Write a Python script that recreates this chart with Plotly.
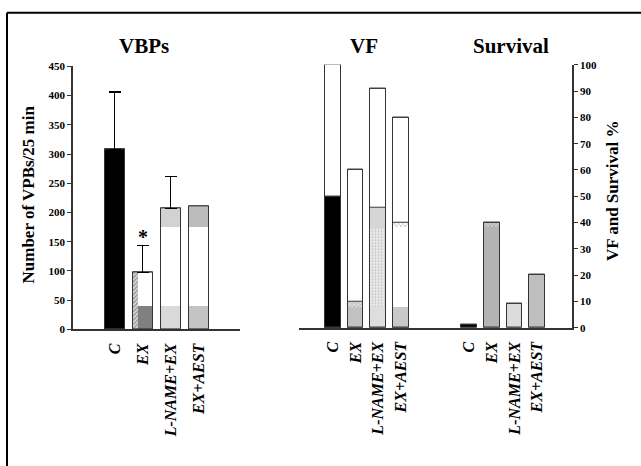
import plotly.graph_objects as go

W, H = 641, 466

# ---------------- data ----------------
cats = ["C", "EX", "L-NAME+EX", "EX+AEST"]
vpb_mean = [308, 97, 207, 210]
vpb_sem = [98, 47, 55, None]
vpb_low_band = [40, 40, 40]          # bottom shaded band of EX, L-NAME+EX, EX+AEST
vpb_high_start = [175, 175]          # start of top shaded band of L-NAME+EX, EX+AEST
vf_total = [100, 60, 91, 80]
vf_lower = [50, 10, 45.5, 40]
vf_gray = [8, 8, 8]                  # bottom gray band of EX, L-NAME+EX, EX+AEST
survival = [1, 40, 9, 20]
y1_ticks = list(range(0, 451, 50))
y2_ticks = list(range(0, 101, 10))

FONT = "Liberation Serif, Times New Roman, serif"
EDGE = "#333333"

vpb_x = [0, 1, 2, 3]
vf_x = [0, 1, 2, 3]
sv_x = [6, 7, 8, 9]
BW1 = 0.7
BW2 = 0.69

fig = go.Figure()


def bar(x, y, base=None, fill="white", ax=1, width=None, offset=None,
        pattern=None, line=1, lcolor=EDGE, err=None):
    bw = BW1 if ax == 1 else BW2
    kw = dict(
        x=x, y=y, base=base,
        width=width if width is not None else bw,
        marker=dict(color=fill, line=dict(color=lcolor, width=line)),
        xaxis="x" if ax == 1 else "x2",
        yaxis="y" if ax == 1 else "y2",
        showlegend=False, hoverinfo="skip",
    )
    if offset is not None:
        kw["offset"] = offset
    if pattern is not None:
        kw["marker"]["pattern"] = pattern
    if err is not None:
        kw["error_y"] = dict(type="data", symmetric=False, array=err,
                             arrayminus=[0] * len(err), color="black",
                             thickness=1.3, width=6)
    fig.add_trace(go.Bar(**kw))


# ---------- VBPs ----------
bar(vpb_x, vpb_mean, fill="white")
bar([0], [vpb_mean[0]], fill="black")
bar([1, 2, 3], vpb_low_band, fill=["#808080", "#dadada", "#c3c3c3"], line=0)
bar([2, 3], [vpb_mean[2] - vpb_high_start[0], vpb_mean[3] - vpb_high_start[1]],
    base=vpb_high_start, fill=["#d2d2d2", "#bcbcbc"], line=0)
bar([1], [vpb_mean[1]], width=0.17, offset=-0.35, fill="white", line=0,
    pattern=dict(shape="/", fgcolor="#555555", bgcolor="#dddddd", size=3, solidity=0.5))
bar(vpb_x, vpb_mean, fill="rgba(0,0,0,0)")
has_err = [i for i, e in enumerate(vpb_sem) if e is not None]
bar([vpb_x[i] for i in has_err], [vpb_mean[i] for i in has_err],
    fill="rgba(0,0,0,0)", line=0, err=[vpb_sem[i] for i in has_err])

# ---------- VF ----------
bar(vf_x, vf_total, fill="white", ax=2)
bar([0], [vf_lower[0]], fill="black", ax=2)
bar([1, 2, 3], vf_gray, fill=["#c2c2c2", "#dedede", "#c8c8c8"], ax=2, line=0)
bar([1], [vf_lower[1] - vf_gray[0]], base=[vf_gray[0]], ax=2, line=0,
    pattern=dict(shape="x", fgcolor="#888888", bgcolor="#dddddd", size=3, solidity=0.4))
bar([2], [38 - vf_gray[1]], base=[vf_gray[1]], ax=2, line=0,
    pattern=dict(shape=".", fgcolor="#9a9a9a", bgcolor="#ebebeb", size=3, solidity=0.3))
bar([2], [vf_lower[2] - 38], base=[38], fill="#d6d6d6", ax=2, line=0)
bar([3], [2], base=[vf_lower[3] - 1.5], ax=2, line=0,
    pattern=dict(shape="x", fgcolor="#777777", bgcolor="white", size=3, solidity=0.4))
bar(vf_x, vf_lower, fill="rgba(0,0,0,0)", ax=2)
bar(vf_x, vf_total, fill="rgba(0,0,0,0)", ax=2)

# ---------- Survival ----------
bar(sv_x, survival, fill=["black", "#b3b3b3", "#dcdcdc", "#bfbfbf"], ax=2)
bar([7], [1.5], base=[survival[1] - 1.5], ax=2, line=0,
    pattern=dict(shape="x", fgcolor="#777777", bgcolor="#cccccc", size=3, solidity=0.4))
bar(sv_x, survival, fill="rgba(0,0,0,0)", ax=2)


def px(x):
    return x / W


def py(y):
    return 1 - y / H


tick_font = dict(family=FONT, size=11, color="black", weight="bold")
cat_font = dict(family=FONT, size=16, color="black", weight="bold", style="italic")

fig.update_layout(
    width=W, height=H,
    margin=dict(l=0, r=0, t=0, b=0),
    paper_bgcolor="white", plot_bgcolor="rgba(0,0,0,0)",
    barmode="overlay",
    bargap=0,
    font=dict(family=FONT, color="black"),
    xaxis=dict(domain=[px(73), px(240)], range=[-1.49, 4.475], anchor="y",
               showline=True, linecolor=EDGE, linewidth=1.5, ticks="",
               tickvals=vpb_x, ticktext=cats, tickangle=-90, tickfont=cat_font,
               ticklabelstandoff=6, showgrid=False, zeroline=False),
    yaxis=dict(domain=[py(332), py(62)], range=[0, 450], anchor="x",
               showline=True, linecolor=EDGE, linewidth=1.5, ticks="outside",
               ticklen=4, tickcolor=EDGE, tickvals=y1_ticks, tickfont=tick_font,
               showgrid=False, zeroline=False),
    xaxis2=dict(domain=[px(299), px(572)], range=[-1.49, 10.54], anchor="y2",
                showline=True, linecolor=EDGE, linewidth=1.5, ticks="",
                tickvals=vf_x + sv_x, ticktext=cats + cats, tickangle=-90,
                tickfont=cat_font, ticklabelstandoff=6,
                showgrid=False, zeroline=False),
    yaxis2=dict(domain=[py(330.3), py(60.3)], range=[0, 100], anchor="x2",
                side="right", showline=True, linecolor=EDGE, linewidth=1.5,
                ticks="outside", ticklen=4, tickcolor=EDGE, tickvals=y2_ticks,
                tickfont=tick_font, showgrid=False, zeroline=False),
)

title_font = dict(family=FONT, size=21, color="black", weight="bold")
for txt, cx in [("VBPs", 144), ("VF", 364), ("Survival", 511)]:
    fig.add_annotation(text=txt, x=px(cx), y=py(41), xref="paper", yref="paper",
                       showarrow=False, font=title_font, xanchor="center", yanchor="middle")

fig.add_annotation(text="Number of VPBs/25 min", x=px(28.5), y=py(194),
                   xref="paper", yref="paper", showarrow=False, textangle=-90,
                   font=dict(family=FONT, size=17, color="black", weight="bold"),
                   xanchor="center", yanchor="middle")
fig.add_annotation(text="VF and Survival %", x=px(612), y=py(190),
                   xref="paper", yref="paper", showarrow=False, textangle=-90,
                   font=dict(family=FONT, size=17, color="black", weight="bold"),
                   xanchor="center", yanchor="middle")
fig.add_annotation(text="*", x=1, y=158, xref="x", yref="y", showarrow=False,
                   font=dict(family=FONT, size=20, color="black", weight="bold"),
                   xanchor="center", yanchor="middle")

# frame (only left and top edges visible)
fig.add_shape(type="line", xref="paper", yref="paper", x0=px(7), x1=1.05,
              y0=py(7), y1=py(7), line=dict(color="black", width=2))
fig.add_shape(type="line", xref="paper", yref="paper", x0=px(7), x1=px(7),
              y0=py(7), y1=-0.05, line=dict(color="black", width=2))

fig.write_html(
    "out.html",
    config={"displayModeBar": False},
    post_script="document.body.style.margin='0';document.body.style.overflow='hidden';",
)
